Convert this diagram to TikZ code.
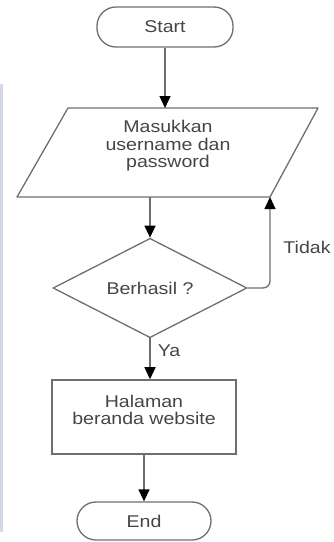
\documentclass[tikz,border=0pt]{standalone}
\usepackage{fontspec}
\newfontfamily\chartfont[FakeStretch=1.15]{Liberation Sans}
\usetikzlibrary{shapes.geometric,arrows.meta}
\definecolor{linegray}{HTML}{6E6E6E}
\definecolor{textgray}{HTML}{454545}
\definecolor{stripblue}{HTML}{D3D7EA}
\tikzset{
  chart/.style={font=\chartfont\fontsize{17}{17.5}\selectfont, text=textgray},
  terminal/.style={chart, draw=linegray, line width=1.3pt, rounded corners=19pt, inner sep=0pt},
  inout/.style={draw=linegray, line width=1.3pt, line join=round},
  decision/.style={chart, draw=linegray, line width=1.3pt, diamond, inner sep=0pt},
  process/.style={draw=linegray, line width=1.6pt, inner sep=0pt},
  flow/.style={draw=linegray, line width=1.3pt, -{Triangle[length=12pt,width=11pt,black]}}
}
\begin{document}
\begin{tikzpicture}[x=1pt,y=-1pt]
  \useasboundingbox (0,0) rectangle (334,542);
  \fill[stripblue] (0,84) rectangle (3,532);
  \node[terminal, minimum width=136pt, minimum height=40pt] (start) at (165,27) {Start};
  % input parallelogram
  \coordinate (inTL) at (68,108);
  \coordinate (inTR) at (318,108);
  \coordinate (inBR) at (270,197);
  \coordinate (inBL) at (17,197);
  \draw[inout] (inTL) -- (inTR) -- (inBR) -- (inBL) -- cycle;
  \node[chart, align=center] (input) at (168,146) {Masukkan\\username dan\\password};
  \node[decision, minimum width=194pt, minimum height=73pt] (check) at (150,288) {Berhasil ?};
  \node[process, minimum width=184pt, minimum height=74pt] (home) at (144,417) {};
  \node[chart, align=center] (hometext) at (144,410) {Halaman\\beranda website};
  \node[terminal, minimum width=134pt, minimum height=38pt] (end) at (144,521) {End};
  \node[chart] (no) at (307,247) {Tidak};
  \node[chart] (yes) at (169,351) {Ya};
  \draw[flow] (start.south) -- (start.south |- inTL);
  \draw[flow] (check |- inBL) -- (check.north);
  \draw[flow, rounded corners=7pt] (check.east) -| (inBR);
  \draw[flow] (check.south) -- (check.south |- home.north);
  \draw[flow] (home.south) -- (end.north);
\end{tikzpicture}
\end{document}
